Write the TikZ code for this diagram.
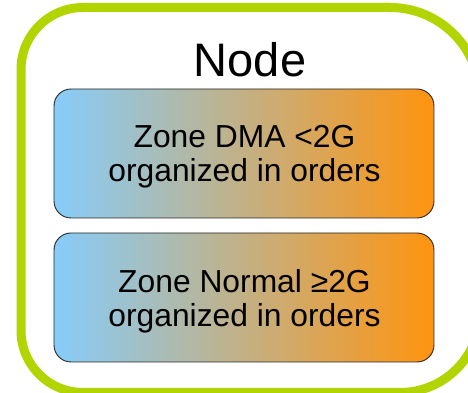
\documentclass[tikz,border=0pt]{standalone}
\usepackage{fontspec}
\setmainfont{Liberation Sans}
\usetikzlibrary{calc}
\definecolor{framegreen}{RGB}{178,212,0}
\definecolor{zoneblue}{RGB}{135,204,250}
\definecolor{zoneorange}{RGB}{255,148,14}
\tikzset{
  zonebox/.style={draw=black!85, line width=0.9pt, rounded corners=17pt,
    left color=zoneblue, right color=zoneorange,
    minimum width=380pt, minimum height=129pt},
  zonetext/.style={align=center, inner sep=0pt,
    font=\fontsize{31.8}{34.2}\selectfont, text=black},
  titletext/.style={font=\fontsize{47}{50}\selectfont, text=black}
}
\begin{document}
\begin{tikzpicture}[x=1pt,y=1pt]
  \useasboundingbox (0,0) rectangle (468,393);
  % outer frame of the NUMA node, partly running off the page
  \begin{scope}
    \clip (0,0) rectangle (468,393);
    \draw[framegreen, line width=9pt]
      (21,62.5) -- (21,323.5)
      arc[start angle=180, end angle=90, radius=62]
      -- (390,385.5)
      arc[start angle=90, end angle=0, radius=90]
      -- (480,80.5)
      arc[start angle=0, end angle=-90, radius=80]
      -- (83,0.5)
      arc[start angle=270, end angle=180, radius=62]
      -- cycle;
  \end{scope}
  \node[titletext, anchor=base] (title) at (250,316) {Node};
  % the two memory zones
  \node[zonebox] (dma) at (244,239.5) {};
  \node[zonebox] (normal) at (244,95.5) {};
  \node[zonetext] (dmatext) at ($(dma.center)+(0.5,-3.5)$)
    {Zone DMA <2G\\organized in orders};
  \node[zonetext] (normaltext) at ($(normal.center)+(0.5,-3.5)$)
    {Zone Normal ≥2G\\organized in orders};
\end{tikzpicture}
\end{document}
